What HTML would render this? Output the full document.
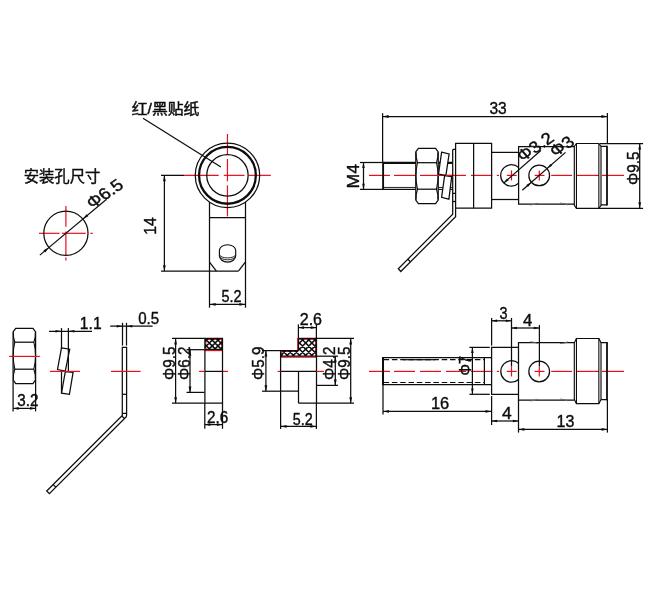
<!DOCTYPE html>
<html lang="zh">
<head>
<meta charset="utf-8">
<title>安装孔尺寸</title>
<style>
html,body{margin:0;padding:0;background:#fff;}
body{width:650px;height:590px;overflow:hidden;}
svg{display:block;will-change:transform;}
text{font-family:"Liberation Sans","Noto Sans CJK SC",sans-serif;fill:#0d0d0d;stroke:#0d0d0d;stroke-width:0.4px;stroke-linejoin:round;}
text.cjk{stroke-width:0.25px;}
</style>
</head>
<body>
<svg width="650" height="590" viewBox="0 0 650 590">
<rect width="650" height="590" fill="#fff"/>
<!-- mounting hole -->
<text transform="translate(23.64 182.4) scale(0.992 1)" font-size="15.5" class="cjk" style="stroke-width:0.4px">安装孔尺寸</text>
<line x1="39" y1="233.3" x2="59.5" y2="233.3" stroke="#e60f1e" stroke-width="1.2"/>
<line x1="62" y1="233.3" x2="85.7" y2="233.3" stroke="#e60f1e" stroke-width="1.2"/>
<line x1="90.4" y1="233.3" x2="92.8" y2="233.3" stroke="#e60f1e" stroke-width="1.2"/>
<line x1="65.9" y1="206.1" x2="65.9" y2="226.8" stroke="#e60f1e" stroke-width="1.2"/>
<line x1="65.9" y1="231.5" x2="65.9" y2="255.1" stroke="#e60f1e" stroke-width="1.2"/>
<line x1="65.9" y1="257.5" x2="65.9" y2="260.6" stroke="#e60f1e" stroke-width="1.2"/>
<circle cx="65.9" cy="233.3" r="22.1" stroke="#0d0d0d" stroke-width="1.25" fill="none"/>
<line x1="39.82" y1="255.11" x2="106.56" y2="199.3" stroke="#0d0d0d" stroke-width="1.25"/>
<polygon points="48.95,247.48 45.24,252.4 43.44,250.25" fill="#0d0d0d"/>
<polygon points="82.85,219.12 86.56,214.2 88.36,216.35" fill="#0d0d0d"/>
<text transform="matrix(0.8736 -0.6004 0.6626 0.7490 92.34 209.25)" font-size="17">Φ6.5</text>
<!-- lug top view -->
<text transform="translate(131.71 113.9) scale(1.055 1)" font-size="15" class="cjk" style="stroke-width:0.45px">红/黑贴纸</text>
<line x1="143" y1="118.3" x2="220.9" y2="167" stroke="#0d0d0d" stroke-width="1.25"/>
<line x1="184" y1="175.35" x2="218.7" y2="175.35" stroke="#e60f1e" stroke-width="1.2"/>
<line x1="223.8" y1="175.35" x2="244.5" y2="175.35" stroke="#e60f1e" stroke-width="1.2"/>
<line x1="248.8" y1="175.35" x2="270.8" y2="175.35" stroke="#e60f1e" stroke-width="1.2"/>
<line x1="227.45" y1="134" x2="227.45" y2="154.3" stroke="#e60f1e" stroke-width="1.2"/>
<line x1="227.45" y1="159" x2="227.45" y2="181.3" stroke="#e60f1e" stroke-width="1.2"/>
<line x1="227.45" y1="185.3" x2="227.45" y2="216.4" stroke="#e60f1e" stroke-width="1.2"/>
<circle cx="227.45" cy="175.35" r="32.2" stroke="#0d0d0d" stroke-width="1.25" fill="none"/>
<circle cx="227.45" cy="175.35" r="28.4" stroke="#0d0d0d" stroke-width="2.3" fill="none"/>
<circle cx="227.45" cy="175.35" r="20.7" stroke="#0d0d0d" stroke-width="1.25" fill="none"/>
<line x1="161" y1="175.35" x2="184" y2="175.35" stroke="#0d0d0d" stroke-width="1.25"/>
<line x1="209.5" y1="202" x2="209.5" y2="307.7" stroke="#0d0d0d" stroke-width="1.25"/>
<line x1="245.5" y1="202" x2="245.5" y2="307.7" stroke="#0d0d0d" stroke-width="1.25"/>
<line x1="209.5" y1="217.5" x2="245.3" y2="217.5" stroke="#0d0d0d" stroke-width="1.25"/>
<line x1="161" y1="271.2" x2="238.4" y2="271.2" stroke="#0d0d0d" stroke-width="1.25"/>
<line x1="209.5" y1="262.1" x2="216.4" y2="271.2" stroke="#0d0d0d" stroke-width="1.25"/>
<line x1="245.3" y1="262.1" x2="238.4" y2="271.2" stroke="#0d0d0d" stroke-width="1.25"/>
<path d="M219.4,250.4 a8.15,5.7 0 0 1 16.3,0 V255.7 a8.15,6.4 0 0 1 -16.3,0 Z" stroke="#0d0d0d" stroke-width="1.15" fill="none"/>
<path d="M219.6,255.0 a8,3.3 0 0 0 15.9,0" stroke="#0d0d0d" stroke-width="0.9" fill="none"/>
<path d="M219.6,256.2 a8,4.1 0 0 0 15.9,0" stroke="#0d0d0d" stroke-width="0.9" fill="none"/>
<line x1="164.4" y1="175.35" x2="164.4" y2="271.2" stroke="#0d0d0d" stroke-width="1.25"/>
<polygon points="164.4,175.35 165.8,181.35 163,181.35" fill="#0d0d0d"/>
<polygon points="164.4,271.2 163,265.2 165.8,265.2" fill="#0d0d0d"/>
<text transform="translate(156.1 234.68) rotate(-90) scale(0.952 1)" font-size="16.5">14</text>
<line x1="209.6" y1="304.4" x2="245.4" y2="304.4" stroke="#0d0d0d" stroke-width="1.25"/>
<polygon points="209.6,304.4 215.6,303 215.6,305.8" fill="#0d0d0d"/>
<polygon points="245.4,304.4 239.4,305.8 239.4,303" fill="#0d0d0d"/>
<text transform="translate(221.45 302.2) scale(0.873 1)" font-size="16.5">5.2</text>
<!-- assembly -->
<line x1="369" y1="175.4" x2="390" y2="175.4" stroke="#e60f1e" stroke-width="1.2"/>
<line x1="394" y1="175.4" x2="415" y2="175.4" stroke="#e60f1e" stroke-width="1.2"/>
<line x1="420" y1="175.4" x2="441" y2="175.4" stroke="#e60f1e" stroke-width="1.2"/>
<line x1="446" y1="175.4" x2="466" y2="175.4" stroke="#e60f1e" stroke-width="1.2"/>
<line x1="471" y1="175.4" x2="492.4" y2="175.4" stroke="#e60f1e" stroke-width="1.2"/>
<line x1="496.8" y1="175.4" x2="499" y2="175.4" stroke="#e60f1e" stroke-width="1.2"/>
<line x1="551.2" y1="175.4" x2="572" y2="175.4" stroke="#e60f1e" stroke-width="1.2"/>
<line x1="577" y1="175.4" x2="599" y2="175.4" stroke="#e60f1e" stroke-width="1.2"/>
<line x1="602" y1="175.4" x2="624" y2="175.4" stroke="#e60f1e" stroke-width="1.2"/>
<line x1="383.1" y1="161.8" x2="383.1" y2="189.9" stroke="#0d0d0d" stroke-width="1.9"/>
<line x1="382.6" y1="162.85" x2="417" y2="162.85" stroke="#0d0d0d" stroke-width="2.2"/>
<line x1="382.6" y1="187.45" x2="417" y2="187.45" stroke="#0d0d0d" stroke-width="0.9"/>
<line x1="382.6" y1="189.4" x2="417" y2="189.4" stroke="#0d0d0d" stroke-width="1.1"/>
<line x1="437" y1="162.85" x2="452.6" y2="162.85" stroke="#0d0d0d" stroke-width="2.2"/>
<line x1="437" y1="187.45" x2="452.6" y2="187.45" stroke="#0d0d0d" stroke-width="0.9"/>
<line x1="437" y1="189.4" x2="452.6" y2="189.4" stroke="#0d0d0d" stroke-width="1.1"/>
<line x1="360" y1="162.5" x2="382.6" y2="162.5" stroke="#0d0d0d" stroke-width="1.25"/>
<line x1="360" y1="189.4" x2="382.6" y2="189.4" stroke="#0d0d0d" stroke-width="1.25"/>
<line x1="363.5" y1="162.5" x2="363.5" y2="189.4" stroke="#0d0d0d" stroke-width="1.25"/>
<polygon points="363.5,162.5 364.8,168.1 362.2,168.1" fill="#0d0d0d"/>
<polygon points="363.5,189.4 362.2,183.8 364.8,183.8" fill="#0d0d0d"/>
<text transform="translate(359 188.49) rotate(-90) scale(1.079 1)" font-size="16.5">M4</text>
<line x1="382.6" y1="113.2" x2="382.6" y2="162.6" stroke="#0d0d0d" stroke-width="1.25"/>
<line x1="607.4" y1="113" x2="607.4" y2="143.4" stroke="#0d0d0d" stroke-width="1.25"/>
<line x1="382.6" y1="116.5" x2="607.4" y2="116.5" stroke="#0d0d0d" stroke-width="1.25"/>
<polygon points="382.6,116.5 388.6,115.1 388.6,117.9" fill="#0d0d0d"/>
<polygon points="607.4,116.5 601.4,117.9 601.4,115.1" fill="#0d0d0d"/>
<text transform="translate(489.41 113.9) scale(0.944 1)" font-size="16.5">33</text>
<path d="M415.8,151.9 L418.4,148.3 H435.6 L438.2,151.9 V200 L435.6,203.6 H418.4 L415.8,200 Z" stroke="#0d0d0d" stroke-width="1.25" fill="#fff"/>
<path d="M416.1,152.3 Q415.7,157.5 417.5,162.7 Q414.3,175.95 417.5,189.2 Q415.7,194.4 416.1,199.6" stroke="#0d0d0d" stroke-width="1.1" fill="none"/>
<path d="M437.9,152.3 Q438.3,157.5 436.5,162.7 Q439.7,175.95 436.5,189.2 Q438.3,194.4 437.9,199.6" stroke="#0d0d0d" stroke-width="1.1" fill="none"/>
<line x1="417.5" y1="162.7" x2="436.5" y2="162.7" stroke="#0d0d0d" stroke-width="1.25"/>
<line x1="417.5" y1="189.2" x2="436.5" y2="189.2" stroke="#0d0d0d" stroke-width="1.25"/>
<line x1="420" y1="175.4" x2="446" y2="175.4" stroke="#e60f1e" stroke-width="1.2"/>
<path d="M441.6,152.2 L449.1,154 L445.9,175.4 L438.5,174.1 Z" stroke="#0d0d0d" stroke-width="1.25" fill="#fff"/>
<path d="M444.6,175.6 L451.7,176.6 L448.9,199.1 L441.6,197.3 Z" stroke="#0d0d0d" stroke-width="1.25" fill="#fff"/>
<line x1="446" y1="175.4" x2="453" y2="175.4" stroke="#e60f1e" stroke-width="1.2"/>
<path d="M452.7,149.4 H455.6 M452.7,149.4 V214.3 L398.3,268.7 L400.8,271.5 L455.6,216.7 V208.2" stroke="#0d0d0d" stroke-width="1.25" fill="none"/>
<line x1="452.7" y1="193.4" x2="455.6" y2="193.4" stroke="#0d0d0d" stroke-width="1.25"/>
<line x1="452.7" y1="201.5" x2="455.6" y2="201.5" stroke="#0d0d0d" stroke-width="1.25"/>
<line x1="407.8" y1="259.3" x2="410.4" y2="261.8" stroke="#0d0d0d" stroke-width="1.25"/>
<path d="M455.6,143.4 H491.6 V208.2 H455.6 Z" stroke="#0d0d0d" stroke-width="1.25" fill="none"/>
<line x1="473.6" y1="143.4" x2="473.6" y2="208.2" stroke="#0d0d0d" stroke-width="1.25"/>
<line x1="491.6" y1="152.4" x2="518.6" y2="152.4" stroke="#0d0d0d" stroke-width="1.25"/>
<line x1="491.6" y1="199.5" x2="518.6" y2="199.5" stroke="#0d0d0d" stroke-width="1.25"/>
<path d="M574.3,146.6 H518.6 V204 H574.3" stroke="#0d0d0d" stroke-width="1.25" fill="none"/>
<path d="M574.3,146.5 L576.4,143.5 H598.9 L601,146.5 V205.3 L598.9,208.3 H576.4 L574.3,205.3 Z" stroke="#0d0d0d" stroke-width="1.15" fill="none"/>
<line x1="576.45" y1="143.5" x2="576.45" y2="208.3" stroke="#0d0d0d" stroke-width="1.1"/>
<line x1="598.85" y1="143.5" x2="598.85" y2="208.3" stroke="#0d0d0d" stroke-width="1.1"/>
<path d="M601,146.4 H607 M601,204.8 H607" stroke="#0d0d0d" stroke-width="1.25" fill="none"/>
<line x1="607" y1="145.8" x2="607" y2="205.4" stroke="#0d0d0d" stroke-width="1.8"/>
<path d="M530,145.7 Q534.0,145.7 538,147.5" stroke="#6a6a6a" stroke-width="0.9" fill="none"/>
<path d="M530,204.9 Q534.0,204.9 538,203.1" stroke="#6a6a6a" stroke-width="0.9" fill="none"/>
<path d="M560,147.5 Q564.0,147.5 568,145.7" stroke="#6a6a6a" stroke-width="0.9" fill="none"/>
<path d="M560,203.1 Q564.0,203.1 568,204.9" stroke="#6a6a6a" stroke-width="0.9" fill="none"/>
<clipPath id="c1"><rect x="480" y="150" width="38.4" height="60"/></clipPath>
<circle cx="511.4" cy="175.4" r="10.7" stroke="#0d0d0d" stroke-width="1.25" fill="none" clip-path="url(#c1)"/>
<circle cx="539.2" cy="175.4" r="10.35" stroke="#0d0d0d" stroke-width="1.25" fill="none"/>
<line x1="506.8" y1="175.4" x2="516.7" y2="175.4" stroke="#e60f1e" stroke-width="1.2"/>
<line x1="511.5" y1="170.4" x2="511.5" y2="180.4" stroke="#e60f1e" stroke-width="1.2"/>
<line x1="534.6" y1="175.4" x2="544.5" y2="175.4" stroke="#e60f1e" stroke-width="1.2"/>
<line x1="539.3" y1="170.4" x2="539.3" y2="180.4" stroke="#e60f1e" stroke-width="1.2"/>
<line x1="600" y1="143.5" x2="643.1" y2="143.5" stroke="#0d0d0d" stroke-width="1.25"/>
<line x1="599" y1="208.3" x2="643.1" y2="208.3" stroke="#0d0d0d" stroke-width="1.25"/>
<line x1="639.7" y1="143.4" x2="639.7" y2="208.3" stroke="#0d0d0d" stroke-width="1.25"/>
<polygon points="639.7,143.4 641.1,149.4 638.3,149.4" fill="#0d0d0d"/>
<polygon points="639.7,208.3 638.3,202.3 641.1,202.3" fill="#0d0d0d"/>
<text transform="translate(638.6 185.02) rotate(-90) scale(0.929 1)" font-size="16.5">Φ9.5</text>
<line x1="503.83" y1="182.92" x2="540.84" y2="150.51" stroke="#0d0d0d" stroke-width="1.25"/>
<polygon points="503.67,183.05 507.03,178.38 508.74,180.34" fill="#0d0d0d"/>
<text transform="matrix(0.8736 -0.6004 0.6626 0.7490 522.84 162.35)" font-size="17">Φ3.2</text>
<line x1="522.27" y1="190.22" x2="565.53" y2="152.35" stroke="#0d0d0d" stroke-width="1.25"/>
<polygon points="531.37,182.25 528.02,186.92 526.31,184.96" fill="#0d0d0d"/>
<polygon points="547.03,168.55 550.38,163.88 552.09,165.84" fill="#0d0d0d"/>
<text transform="matrix(0.8736 -0.6004 0.6626 0.7490 555.54 157.55)" font-size="17">Φ3</text>
<!-- parts -->
<path d="M13.1,331.9 L15.7,328.3 H33 L35.6,331.9 V379.9 L33,383.5 H15.7 L13.1,379.9 Z" stroke="#0d0d0d" stroke-width="1.25" fill="none"/>
<path d="M13.4,332.3 Q13,337.25 14.8,342.2 Q11.6,355.7 14.8,369.2 Q13,374.35 13.4,379.5" stroke="#0d0d0d" stroke-width="1.1" fill="none"/>
<path d="M35.3,332.3 Q35.7,337.25 33.9,342.2 Q37.1,355.7 33.9,369.2 Q35.7,374.35 35.3,379.5" stroke="#0d0d0d" stroke-width="1.1" fill="none"/>
<line x1="14.8" y1="342.2" x2="33.9" y2="342.2" stroke="#0d0d0d" stroke-width="1.25"/>
<line x1="14.8" y1="369.2" x2="33.9" y2="369.2" stroke="#0d0d0d" stroke-width="1.25"/>
<line x1="9.2" y1="356.4" x2="39.8" y2="356.4" stroke="#e60f1e" stroke-width="1.2"/>
<line x1="13.1" y1="380" x2="13.1" y2="411.4" stroke="#0d0d0d" stroke-width="1.25"/>
<line x1="35.6" y1="380" x2="35.6" y2="411.4" stroke="#0d0d0d" stroke-width="1.25"/>
<line x1="13.1" y1="408.4" x2="35.6" y2="408.4" stroke="#0d0d0d" stroke-width="1.25"/>
<polygon points="13.1,408.4 18.7,407.1 18.7,409.7" fill="#0d0d0d"/>
<polygon points="35.6,408.4 30,409.7 30,407.1" fill="#0d0d0d"/>
<text transform="translate(17.22 406.1) scale(0.924 1)" font-size="16.5">3.2</text>
<line x1="61.5" y1="328.1" x2="61.5" y2="348" stroke="#0d0d0d" stroke-width="1.25"/>
<line x1="68.4" y1="328.1" x2="68.4" y2="371.4" stroke="#0d0d0d" stroke-width="1.25"/>
<line x1="61.5" y1="371.4" x2="61.5" y2="393.2" stroke="#0d0d0d" stroke-width="1.25"/>
<path d="M61.5,347.8 L69.7,349.2 L65.3,371.1 L57.5,369.5 Z" stroke="#0d0d0d" stroke-width="1.25" fill="none"/>
<path d="M65.3,371.6 L73.1,372.3 L69.4,394.3 L61.5,393.2 Z" stroke="#0d0d0d" stroke-width="1.25" fill="none"/>
<line x1="50" y1="371.4" x2="80" y2="371.4" stroke="#e60f1e" stroke-width="1.2"/>
<line x1="49" y1="331.3" x2="92" y2="331.3" stroke="#0d0d0d" stroke-width="1.25"/>
<polygon points="61.5,331.3 55.5,332.6 55.5,330" fill="#0d0d0d"/>
<polygon points="68.4,331.3 74.4,330 74.4,332.6" fill="#0d0d0d"/>
<text transform="translate(79.82 329.1) scale(0.951 1)" font-size="16.5">1.1</text>
<line x1="122.5" y1="322.8" x2="122.5" y2="345.6" stroke="#0d0d0d" stroke-width="1.25"/>
<line x1="126.5" y1="322.8" x2="126.5" y2="345.6" stroke="#0d0d0d" stroke-width="1.25"/>
<path d="M122.3,347.4 H126.6 V415.2 Q126.6,416.4 125.8,417.2 L49.4,493.6 L46.7,491 L122.3,415.4 Z" stroke="#0d0d0d" stroke-width="1.25" fill="none"/>
<line x1="122.3" y1="394.3" x2="126.6" y2="394.3" stroke="#0d0d0d" stroke-width="1.25"/>
<line x1="122.3" y1="413.4" x2="126.6" y2="413.4" stroke="#0d0d0d" stroke-width="1.25"/>
<line x1="121.7" y1="416" x2="124.6" y2="418.5" stroke="#0d0d0d" stroke-width="1.25"/>
<line x1="53.2" y1="484.6" x2="55.9" y2="487.2" stroke="#0d0d0d" stroke-width="1.25"/>
<line x1="111" y1="371.4" x2="140.6" y2="371.4" stroke="#e60f1e" stroke-width="1.2"/>
<line x1="110.2" y1="326.2" x2="152.6" y2="326.2" stroke="#0d0d0d" stroke-width="1.25"/>
<polygon points="122.5,326.2 116.7,327.5 116.7,324.9" fill="#0d0d0d"/>
<polygon points="126.5,326.2 132.3,324.9 132.3,327.5" fill="#0d0d0d"/>
<text transform="translate(138.23 324.1) scale(0.915 1)" font-size="16.5">0.5</text>
<line x1="205.9" y1="339" x2="205.9" y2="350" stroke="#e60f1e" stroke-width="0.9"/>
<line x1="221.6" y1="339" x2="221.6" y2="350" stroke="#e60f1e" stroke-width="0.9"/>
<line x1="205" y1="339.5" x2="222" y2="339.5" stroke="#e60f1e" stroke-width="1"/>
<line x1="204.3" y1="350.5" x2="222.9" y2="350.5" stroke="#e60f1e" stroke-width="1.3"/>
<clipPath id="hc1"><polygon points="204.9,338.4 222.5,338.4 222.5,349.4 204.9,349.4"/></clipPath>
<path d="M198.9,338.4L209.9,349.4M208.1,338.4L197.1,349.4M204.7,338.4L215.7,349.4M213.9,338.4L202.9,349.4M210.5,338.4L221.5,349.4M219.7,338.4L208.7,349.4M216.3,338.4L227.3,349.4M225.5,338.4L214.5,349.4M222.1,338.4L233.1,349.4M231.3,338.4L220.3,349.4" stroke="#0d0d0d" stroke-width="1.5" fill="none" clip-path="url(#hc1)"/>
<line x1="204.9" y1="349.4" x2="222.5" y2="349.4" stroke="#0d0d0d" stroke-width="1.25"/>
<path d="M204.9,338.4 H222.5 V403.2 H204.9 Z" stroke="#0d0d0d" stroke-width="1.25" fill="none"/>
<line x1="204.9" y1="371.4" x2="222.5" y2="371.4" stroke="#0d0d0d" stroke-width="1.25"/>
<line x1="199.1" y1="371.4" x2="204.3" y2="371.4" stroke="#e60f1e" stroke-width="1.2"/>
<line x1="223" y1="371.4" x2="228" y2="371.4" stroke="#e60f1e" stroke-width="1.2"/>
<line x1="172" y1="338.4" x2="204.6" y2="338.4" stroke="#0d0d0d" stroke-width="1.25"/>
<line x1="172" y1="403.2" x2="204.6" y2="403.2" stroke="#0d0d0d" stroke-width="1.25"/>
<line x1="186.5" y1="349.7" x2="204.6" y2="349.7" stroke="#0d0d0d" stroke-width="1.25"/>
<line x1="186.5" y1="392.4" x2="204.6" y2="392.4" stroke="#0d0d0d" stroke-width="1.25"/>
<line x1="175.6" y1="338.4" x2="175.6" y2="403.2" stroke="#0d0d0d" stroke-width="1.25"/>
<polygon points="175.6,338.4 177,344.4 174.2,344.4" fill="#0d0d0d"/>
<polygon points="175.6,403.2 174.2,397.2 177,397.2" fill="#0d0d0d"/>
<line x1="190" y1="349.7" x2="190" y2="392.4" stroke="#0d0d0d" stroke-width="1.25"/>
<polygon points="190,349.7 191.4,355.7 188.6,355.7" fill="#0d0d0d"/>
<polygon points="190,392.4 188.6,386.4 191.4,386.4" fill="#0d0d0d"/>
<text transform="translate(174.6 380.02) rotate(-90) scale(0.929 1)" font-size="16.5">Φ9.5</text>
<text transform="translate(189.5 380.02) rotate(-90) scale(0.929 1)" font-size="16.5">Φ6.2</text>
<line x1="204.8" y1="403.2" x2="204.8" y2="428.8" stroke="#0d0d0d" stroke-width="1.25"/>
<line x1="222.5" y1="403.2" x2="222.5" y2="428.8" stroke="#0d0d0d" stroke-width="1.25"/>
<line x1="204.7" y1="424.6" x2="222.5" y2="424.6" stroke="#0d0d0d" stroke-width="1.25"/>
<polygon points="204.7,424.6 210.3,423.3 210.3,425.9" fill="#0d0d0d"/>
<polygon points="222.5,424.6 216.9,425.9 216.9,423.3" fill="#0d0d0d"/>
<text transform="translate(206.98 422.7) scale(0.926 1)" font-size="16.5">2.6</text>
<line x1="297.8" y1="338" x2="297.8" y2="350.6" stroke="#e60f1e" stroke-width="1.3"/>
<line x1="298.6" y1="339.4" x2="316" y2="339.4" stroke="#e60f1e" stroke-width="1"/>
<line x1="315.7" y1="338.4" x2="315.7" y2="357" stroke="#e60f1e" stroke-width="1.2"/>
<line x1="280.4" y1="357.1" x2="316.9" y2="357.1" stroke="#e60f1e" stroke-width="1.3"/>
<line x1="281.9" y1="351" x2="281.9" y2="357" stroke="#e60f1e" stroke-width="1.2"/>
<line x1="282" y1="351.5" x2="298" y2="351.5" stroke="#e60f1e" stroke-width="1"/>
<clipPath id="hc2"><polygon points="298.6,338.3 316.4,338.3 316.4,356.2 281,356.2 281,350.5 298.6,350.5"/></clipPath>
<path d="M264.05,338.3L281.95,356.2M270.2,338.3L288.1,356.2M276.35,338.3L294.25,356.2M285.75,338.3L267.85,356.2M282.5,338.3L300.4,356.2M291.9,338.3L274,356.2M288.65,338.3L306.55,356.2M298.05,338.3L280.15,356.2M294.8,338.3L312.7,356.2M304.2,338.3L286.3,356.2M300.95,338.3L318.85,356.2M310.35,338.3L292.45,356.2M307.1,338.3L325,356.2M316.5,338.3L298.6,356.2M313.25,338.3L331.15,356.2M322.65,338.3L304.75,356.2M328.8,338.3L310.9,356.2" stroke="#0d0d0d" stroke-width="1.55" fill="none" clip-path="url(#hc2)"/>
<line x1="280.6" y1="356.2" x2="316.4" y2="356.2" stroke="#0d0d0d" stroke-width="1.25"/>
<path d="M298.5,338.4 H316.5 V403.2 H298.5 M298.5,338.4 V350.6 M298.5,391.2 H280.6 V350.6 H298.5" stroke="#0d0d0d" stroke-width="1.25" fill="none"/>
<line x1="298.5" y1="371.4" x2="298.5" y2="403.2" stroke="#0d0d0d" stroke-width="1.25"/>
<line x1="280.6" y1="371.4" x2="316.4" y2="371.4" stroke="#0d0d0d" stroke-width="1.25"/>
<line x1="277.6" y1="371.4" x2="280.6" y2="371.4" stroke="#e60f1e" stroke-width="1.2"/>
<line x1="316.4" y1="371.4" x2="324" y2="371.4" stroke="#e60f1e" stroke-width="1.2"/>
<line x1="262" y1="350.6" x2="280.6" y2="350.6" stroke="#0d0d0d" stroke-width="1.25"/>
<line x1="262" y1="391.2" x2="280.6" y2="391.2" stroke="#0d0d0d" stroke-width="1.25"/>
<line x1="265.9" y1="350.6" x2="265.9" y2="391.2" stroke="#0d0d0d" stroke-width="1.25"/>
<polygon points="265.9,350.6 267.3,356.6 264.5,356.6" fill="#0d0d0d"/>
<polygon points="265.9,391.2 264.5,385.2 267.3,385.2" fill="#0d0d0d"/>
<text transform="translate(264.3 379.92) rotate(-90) scale(0.926 1)" font-size="16.5">Φ5.9</text>
<line x1="316.4" y1="356.2" x2="338" y2="356.2" stroke="#0d0d0d" stroke-width="1.25"/>
<line x1="316.4" y1="385.4" x2="338" y2="385.4" stroke="#0d0d0d" stroke-width="1.25"/>
<line x1="335.3" y1="356.2" x2="335.3" y2="385.4" stroke="#0d0d0d" stroke-width="1.25"/>
<polygon points="335.3,356.2 336.7,362.2 333.9,362.2" fill="#0d0d0d"/>
<polygon points="335.3,385.4 333.9,379.4 336.7,379.4" fill="#0d0d0d"/>
<text transform="translate(334.8 379.92) rotate(-90) scale(0.926 1)" font-size="16.5">Φ4.2</text>
<line x1="316.4" y1="338.4" x2="354" y2="338.4" stroke="#0d0d0d" stroke-width="1.25"/>
<line x1="316.4" y1="403.2" x2="354" y2="403.2" stroke="#0d0d0d" stroke-width="1.25"/>
<line x1="350.7" y1="338.4" x2="350.7" y2="403.2" stroke="#0d0d0d" stroke-width="1.25"/>
<polygon points="350.7,338.4 352.1,344.4 349.3,344.4" fill="#0d0d0d"/>
<polygon points="350.7,403.2 349.3,397.2 352.1,397.2" fill="#0d0d0d"/>
<text transform="translate(349.5 379.92) rotate(-90) scale(0.926 1)" font-size="16.5">Φ9.5</text>
<line x1="298.4" y1="324.4" x2="298.4" y2="338.4" stroke="#0d0d0d" stroke-width="1.25"/>
<line x1="316.4" y1="324.4" x2="316.4" y2="338.4" stroke="#0d0d0d" stroke-width="1.25"/>
<line x1="298.4" y1="327.6" x2="316.4" y2="327.6" stroke="#0d0d0d" stroke-width="1.25"/>
<polygon points="298.4,327.6 304,326.3 304,328.9" fill="#0d0d0d"/>
<polygon points="316.4,327.6 310.8,328.9 310.8,326.3" fill="#0d0d0d"/>
<text transform="translate(299.75 324.9) scale(0.972 1)" font-size="16.5">2.6</text>
<line x1="280.6" y1="391.2" x2="280.6" y2="429" stroke="#0d0d0d" stroke-width="1.25"/>
<line x1="316.4" y1="403.2" x2="316.4" y2="429" stroke="#0d0d0d" stroke-width="1.25"/>
<line x1="280.6" y1="426.4" x2="316.4" y2="426.4" stroke="#0d0d0d" stroke-width="1.25"/>
<polygon points="280.6,426.4 286.6,425 286.6,427.8" fill="#0d0d0d"/>
<polygon points="316.4,426.4 310.4,427.8 310.4,425" fill="#0d0d0d"/>
<text transform="translate(292.75 424.9) scale(0.869 1)" font-size="16.5">5.2</text>
<!-- bolt and body -->
<line x1="369" y1="371.4" x2="390" y2="371.4" stroke="#e60f1e" stroke-width="1.2"/>
<line x1="394" y1="371.4" x2="415" y2="371.4" stroke="#e60f1e" stroke-width="1.2"/>
<line x1="420" y1="371.4" x2="441" y2="371.4" stroke="#e60f1e" stroke-width="1.2"/>
<line x1="446" y1="371.4" x2="466" y2="371.4" stroke="#e60f1e" stroke-width="1.2"/>
<line x1="471" y1="371.4" x2="492.4" y2="371.4" stroke="#e60f1e" stroke-width="1.2"/>
<line x1="496.8" y1="371.4" x2="499" y2="371.4" stroke="#e60f1e" stroke-width="1.2"/>
<line x1="551.2" y1="371.4" x2="572" y2="371.4" stroke="#e60f1e" stroke-width="1.2"/>
<line x1="577" y1="371.4" x2="599" y2="371.4" stroke="#e60f1e" stroke-width="1.2"/>
<line x1="602" y1="371.4" x2="624" y2="371.4" stroke="#e60f1e" stroke-width="1.2"/>
<line x1="383" y1="357" x2="383" y2="385.2" stroke="#0d0d0d" stroke-width="2"/>
<line x1="383" y1="357.6" x2="491.6" y2="357.6" stroke="#0d0d0d" stroke-width="1.25"/>
<line x1="383" y1="384.6" x2="491.6" y2="384.6" stroke="#0d0d0d" stroke-width="1.25"/>
<line x1="383.6" y1="359.7" x2="484.4" y2="359.7" stroke="#0d0d0d" stroke-width="1.2" stroke-dasharray="5.5 2.8"/>
<line x1="403" y1="359.7" x2="435" y2="359.7" stroke="#0d0d0d" stroke-width="1.2"/>
<line x1="383.6" y1="382.5" x2="484.4" y2="382.5" stroke="#0d0d0d" stroke-width="1.2" stroke-dasharray="5.5 2.8"/>
<line x1="484.4" y1="357.6" x2="484.4" y2="384.6" stroke="#0d0d0d" stroke-width="1.25"/>
<line x1="469.4" y1="347.4" x2="489.8" y2="347.4" stroke="#0d0d0d" stroke-width="1.25"/>
<line x1="469.4" y1="394.3" x2="489.8" y2="394.3" stroke="#0d0d0d" stroke-width="1.25"/>
<line x1="472.4" y1="347.4" x2="472.4" y2="394" stroke="#0d0d0d" stroke-width="1.25"/>
<polygon points="472.4,347.4 473.7,353 471.1,353" fill="#0d0d0d"/>
<polygon points="472.4,394 471.1,388.4 473.7,388.4" fill="#0d0d0d"/>
<text transform="translate(471.4 375.47) rotate(-90) scale(0.871 1)" font-size="16.5">Φ7</text>
<line x1="491.6" y1="318" x2="491.6" y2="345.6" stroke="#0d0d0d" stroke-width="1.25"/>
<line x1="491.6" y1="396" x2="491.6" y2="425" stroke="#0d0d0d" stroke-width="1.25"/>
<path d="M518.5,347.4 H491.6 V394.3 H518.5" stroke="#0d0d0d" stroke-width="1.25" fill="none"/>
<path d="M574.3,342.7 H518.5 V400 H574.3" stroke="#0d0d0d" stroke-width="1.25" fill="none"/>
<line x1="518.5" y1="400" x2="518.5" y2="432.6" stroke="#0d0d0d" stroke-width="1.25"/>
<path d="M574.3,342.7 L576.4,338.5 H598.9 L601,342.7 V399.4 L598.9,403.6 H576.4 L574.3,399.4 Z" stroke="#0d0d0d" stroke-width="1.15" fill="none"/>
<line x1="576.45" y1="338.5" x2="576.45" y2="403.6" stroke="#0d0d0d" stroke-width="1.1"/>
<line x1="598.85" y1="338.5" x2="598.85" y2="403.6" stroke="#0d0d0d" stroke-width="1.1"/>
<path d="M601,342.7 H607 M601,399.6 H607" stroke="#0d0d0d" stroke-width="1.25" fill="none"/>
<line x1="607" y1="342.1" x2="607" y2="400.2" stroke="#0d0d0d" stroke-width="1.8"/>
<line x1="607.4" y1="399" x2="607.4" y2="432.6" stroke="#0d0d0d" stroke-width="1.25"/>
<path d="M530,341.8 Q534.0,341.8 538,343.6" stroke="#6a6a6a" stroke-width="0.9" fill="none"/>
<path d="M530,400.9 Q534.0,400.9 538,399.1" stroke="#6a6a6a" stroke-width="0.9" fill="none"/>
<path d="M560,343.6 Q564.0,343.6 568,341.8" stroke="#6a6a6a" stroke-width="0.9" fill="none"/>
<path d="M560,399.1 Q564.0,399.1 568,400.9" stroke="#6a6a6a" stroke-width="0.9" fill="none"/>
<clipPath id="c2"><rect x="480" y="350" width="38.4" height="60"/></clipPath>
<circle cx="511.5" cy="371.4" r="10.7" stroke="#0d0d0d" stroke-width="1.25" fill="none" clip-path="url(#c2)"/>
<circle cx="539.2" cy="371.4" r="10.35" stroke="#0d0d0d" stroke-width="1.25" fill="none"/>
<line x1="506.8" y1="371.4" x2="516.7" y2="371.4" stroke="#e60f1e" stroke-width="1.2"/>
<line x1="511.5" y1="366.4" x2="511.5" y2="376.4" stroke="#e60f1e" stroke-width="1.2"/>
<line x1="534.6" y1="371.4" x2="544.5" y2="371.4" stroke="#e60f1e" stroke-width="1.2"/>
<line x1="539.3" y1="366.4" x2="539.3" y2="376.4" stroke="#e60f1e" stroke-width="1.2"/>
<line x1="511.5" y1="318" x2="511.5" y2="366.4" stroke="#0d0d0d" stroke-width="1.25"/>
<line x1="539.4" y1="325" x2="539.4" y2="366.4" stroke="#0d0d0d" stroke-width="1.25"/>
<line x1="491.5" y1="320.8" x2="511.4" y2="320.8" stroke="#0d0d0d" stroke-width="1.25"/>
<polygon points="491.5,320.8 497.1,319.5 497.1,322.1" fill="#0d0d0d"/>
<polygon points="511.4,320.8 505.8,322.1 505.8,319.5" fill="#0d0d0d"/>
<text transform="translate(499.55 319.1) scale(0.876 1)" font-size="16.5">3</text>
<line x1="511.4" y1="328" x2="539.4" y2="328" stroke="#0d0d0d" stroke-width="1.25"/>
<polygon points="511.4,328 517,326.7 517,329.3" fill="#0d0d0d"/>
<polygon points="539.4,328 533.8,329.3 533.8,326.7" fill="#0d0d0d"/>
<text transform="translate(522.94 325.9) scale(1.011 1)" font-size="16.5">4</text>
<line x1="491.5" y1="421" x2="518.4" y2="421" stroke="#0d0d0d" stroke-width="1.25"/>
<polygon points="491.5,421 497.1,419.7 497.1,422.3" fill="#0d0d0d"/>
<polygon points="518.4,421 512.8,422.3 512.8,419.7" fill="#0d0d0d"/>
<text transform="translate(501.93 419.3) scale(1.058 1)" font-size="16.5">4</text>
<line x1="518.4" y1="429.4" x2="607.6" y2="429.4" stroke="#0d0d0d" stroke-width="1.25"/>
<polygon points="518.4,429.4 524.4,428 524.4,430.8" fill="#0d0d0d"/>
<polygon points="607.6,429.4 601.6,430.8 601.6,428" fill="#0d0d0d"/>
<text transform="translate(556.6 427.3) scale(0.973 1)" font-size="16.5">13</text>
<line x1="383" y1="384" x2="383" y2="414.6" stroke="#0d0d0d" stroke-width="1.25"/>
<line x1="383" y1="411.4" x2="491.5" y2="411.4" stroke="#0d0d0d" stroke-width="1.25"/>
<polygon points="383,411.4 389,410 389,412.8" fill="#0d0d0d"/>
<polygon points="491.5,411.4 485.5,412.8 485.5,410" fill="#0d0d0d"/>
<text transform="translate(430.97 409.4) scale(0.997 1)" font-size="16.5">16</text>
</svg>
</body>
</html>
